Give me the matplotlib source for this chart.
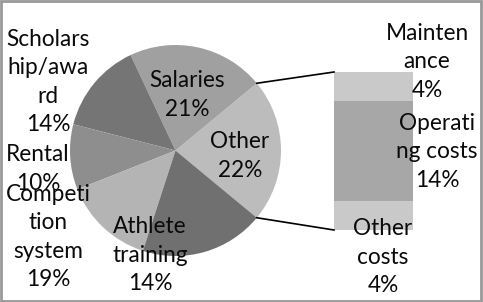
import numpy as np
import matplotlib
matplotlib.use('Agg')
import matplotlib.pyplot as plt
from matplotlib.patches import Rectangle

# pie slices, counterclockwise starting with the split-off "Other" slice
pie_names = ['Other', 'Salaries', 'Scholars\nhip/awa\nrd', 'Rental', 'Competi\ntion\nsystem', 'Athlete\ntraining']
pie_sizes = [22, 21, 14, 10, 14, 19]          # slice sizes as drawn
pie_pct = ['22%', '21%', '14%', '10%', '19%', '14%']   # percentages as printed
pie_colors = ['#bcbcbc', '#a0a0a0', '#757575', '#8e8e8e', '#b4b4b4', '#707070']

# breakdown of "Other", bottom to top
bar_names = ['Other\ncosts', 'Operati\nng costs', 'Mainten\nance']
bar_sizes = [4, 14, 4]
bar_colors = ['#c9c9c9', '#a7a7a7', '#c9c9c9']

W, H = 483, 302
fig = plt.figure(figsize=(W / 100, H / 100), dpi=100)
ax = fig.add_axes([0, 0, 1, 1])

font = dict(family=['Lato', 'DejaVu Sans'], fontsize=16.3, linespacing=1.42, color='#0a0a0a')

# pie
cx, cy, r = 175.5, H - 150.5, 105.5
start = -pie_sizes[0] / sum(pie_sizes) * 360 / 2
wedges, _ = ax.pie(pie_sizes, colors=pie_colors, startangle=start, counterclock=True,
                   center=(cx, cy), radius=r, frame=True,
                   wedgeprops=dict(linewidth=0))
ax.set_xlim(0, W)
ax.set_ylim(0, H)
ax.set_aspect('equal')
ax.axis('off')

# pie labels (pixel positions from the top-left corner)
pie_label_pos = [(240, 156), (187, 95), (48, 82), (38, 169), (48, 237), (150, 255)]
for name, pct, (px, py) in zip(pie_names, pie_pct, pie_label_pos):
    ax.text(px, H - py, name + '\n' + pct, ha='center', va='center', **font)

# stacked bar for the "Other" breakdown
bx0, bx1 = 334, 413
btop, bbot = H - 72, H - 230
unit = (btop - bbot) / sum(bar_sizes)
bottoms = bbot + unit * np.concatenate([[0], np.cumsum(bar_sizes)[:-1]])
ax.bar([(bx0 + bx1) / 2] * len(bar_sizes), np.array(bar_sizes) * unit, width=bx1 - bx0,
       bottom=bottoms, color=bar_colors, linewidth=0)

bar_label_pos = [(383, 257), (437, 152), (427, 62)]
for name, v, (px, py) in zip(bar_names, bar_sizes, bar_label_pos):
    ax.text(px, H - py, f'{name}\n{v}%', ha='center', va='center', **font)

# connector lines from the "Other" slice edges to the bar
half = np.deg2rad(-start)
ax.plot([cx + r * np.cos(half), bx0], [cy + r * np.sin(half), btop], color='black', lw=1.2)
ax.plot([cx + r * np.cos(half), bx0], [cy - r * np.sin(half), bbot], color='black', lw=1.2)

# chart border
fig.patches.append(Rectangle((0.002, 0.004), 0.994, 0.992, transform=fig.transFigure,
                             fill=False, edgecolor='#999999', linewidth=2))

fig.savefig('out.png', dpi=100)
